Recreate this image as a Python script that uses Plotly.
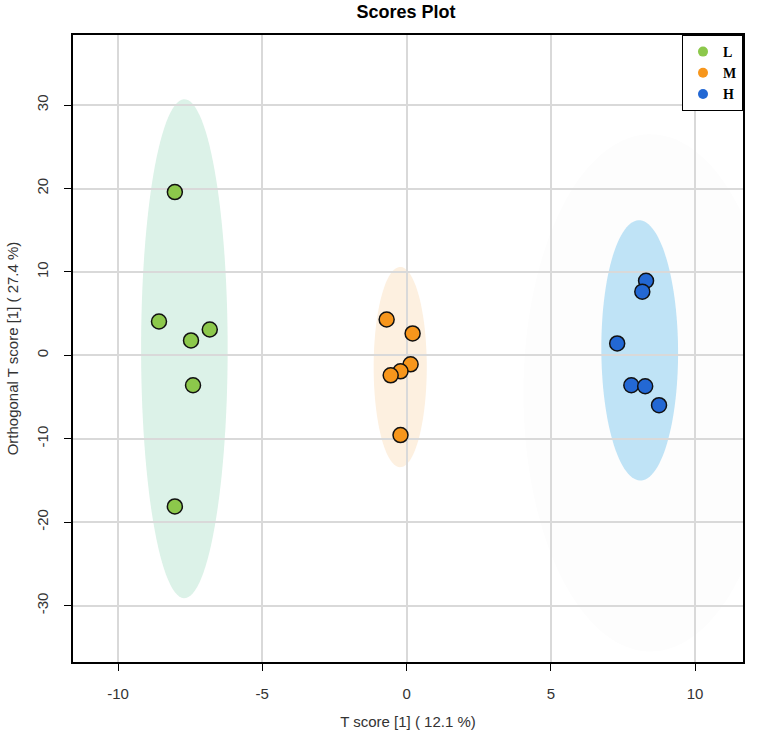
import numpy as np
import plotly.graph_objects as go

# ---- data ----
groups = ["L", "M", "H"]
colors = ["#8cc84b", "#f7961c", "#2368d4"]

L_x = [-8.03, -8.58, -6.82, -7.47, -7.40, -8.03]
L_y = [19.57, 4.06, 3.10, 1.79, -3.58, -18.1]
M_x = [-0.69, 0.21, 0.14, -0.21, -0.55, -0.21]
M_y = [4.30, 2.63, -1.07, -1.91, -2.39, -9.55]
H_x = [8.30, 8.17, 7.30, 7.79, 8.27, 8.75]
H_y = [8.95, 7.64, 1.43, -3.58, -3.70, -5.97]

# ellipse parameters: centre x, centre y, semi-axis x, semi-axis y, tilt (deg), fill
ell_cx = [-7.70, -0.22, 8.08, 8.45]
ell_cy = [0.8, -1.4, 0.6, -4.5]
ell_ax = [1.50, 0.92, 1.33, 4.4]
ell_ay = [29.9, 12.0, 15.6, 31.0]
ell_tilt = [0.0, 0.0, 0.9, 0.0]
ell_fill = ["#dcf2e8", "#fdf0e0", "#bfe3f6", "#fdfdfd"]

x_ticks = [-10, -5, 0, 5, 10]
y_ticks = [-30, -20, -10, 0, 10, 20, 30]

xs = [L_x, M_x, H_x]
ys = [L_y, M_y, H_y]

fig = go.Figure()

# ellipses as data-space paths drawn under gridlines
shapes = []
t = np.linspace(0, 2 * np.pi, 120)
order = [3, 0, 1, 2]
for i in order:
    a = np.deg2rad(ell_tilt[i])
    ex = ell_ax[i] * np.cos(t)
    ey = ell_ay[i] * np.sin(t)
    px = ell_cx[i] + ex - np.tan(a) * ey / 10.0
    py = ell_cy[i] + ey
    path = "M " + " L ".join(f"{x:.4f},{y:.4f}" for x, y in zip(px, py)) + " Z"
    shapes.append(dict(type="path", path=path, xref="x", yref="y",
                       fillcolor=ell_fill[i], line=dict(width=0), layer="below"))

for g, c, x, y in zip(groups, colors, xs, ys):
    fig.add_trace(go.Scatter(
        x=x, y=y, mode="markers", name=g,
        marker=dict(size=15, color=c, line=dict(color="#111111", width=1.5)),
        showlegend=False))
    fig.add_trace(go.Scatter(
        x=[None], y=[None], mode="markers", name=f"<b>{g}</b>",
        marker=dict(size=10, color=c, line=dict(width=0)), showlegend=True))

fig.update_layout(
    width=767, height=740,
    paper_bgcolor="white", plot_bgcolor="white",
    margin=dict(l=72, r=24, t=35, b=75),
    shapes=shapes,
    title=dict(text="<b>Scores Plot</b>", x=406 / 767, xanchor="center",
               y=1 - 12 / 740, yanchor="middle",
               font=dict(family="Liberation Sans, Arial", size=18, color="black")),
    legend=dict(x=1.0, xanchor="right", y=1.0, yanchor="top",
                bordercolor="black", borderwidth=1, bgcolor="white",
                font=dict(family="Liberation Serif, Times New Roman", size=14, color="black"),
                itemwidth=30, tracegroupgap=0),
    font=dict(family="Liberation Sans, Arial", size=15, color="#333333"),
)
fig.update_xaxes(
    range=[-11.56, 11.66], tickvals=x_ticks, ticktext=[str(v) for v in x_ticks],
    showgrid=True, gridcolor="#d9d9d9", gridwidth=1.5, zeroline=False,
    showline=True, linecolor="black", linewidth=1.5, mirror=True,
    ticks="outside", ticklen=7, tickcolor="black", tickwidth=1,
    ticklabelstandoff=10,
    title=dict(text="T score [1] ( 12.1 %)", standoff=16,
               font=dict(size=15, color="#333333")),
)
fig.update_yaxes(
    range=[-36.75, 38.4], tickvals=y_ticks, ticktext=[str(v) for v in y_ticks],
    tickangle=-90, ticklabelstandoff=10,
    showgrid=True, gridcolor="#d9d9d9", gridwidth=1.5, zeroline=False,
    showline=True, linecolor="black", linewidth=1.5, mirror=True,
    ticks="outside", ticklen=7, tickcolor="black", tickwidth=1,
    title=dict(text="Orthogonal T score [1] ( 27.4 %)", standoff=12,
               font=dict(size=15, color="#333333")),
)

fig.write_html("out.html", config={"displayModeBar": False},
               post_script="document.body.style.margin='0';")
